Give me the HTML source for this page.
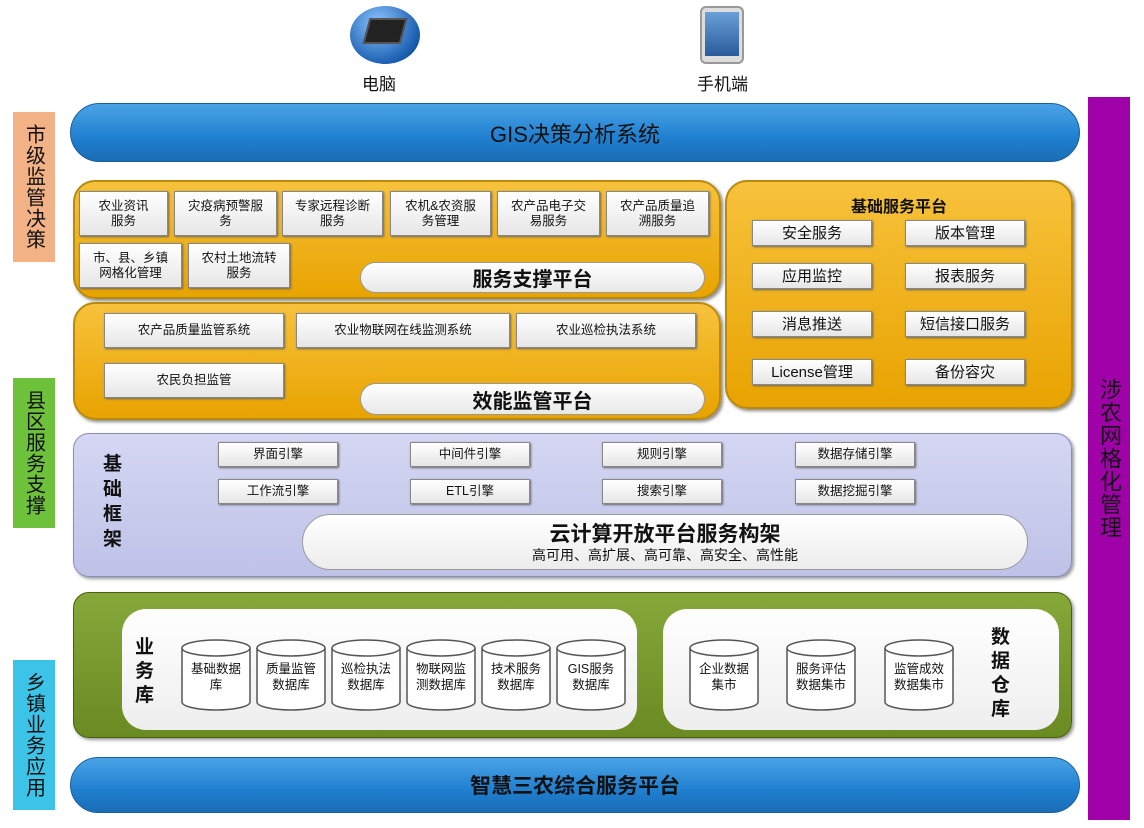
<!DOCTYPE html>
<html><head><meta charset="utf-8">
<style>
*{margin:0;padding:0;box-sizing:border-box}
body{width:1144px;height:828px;background:#fff;position:relative;overflow:hidden;font-family:"Liberation Sans","Noto Sans CJK SC",sans-serif;color:#111}
.a{position:absolute}
.c{display:flex;align-items:center;justify-content:center;text-align:center}
.bar{background:linear-gradient(#4aa3e6,#1f7fcf 60%,#1a6db5);border-radius:30px;border:1px solid #1a5f9e;color:#111;font-size:22px}
.side{width:42px;font-size:20px;writing-mode:vertical-rl;letter-spacing:1px;display:flex;align-items:center;justify-content:center}
.org{background:linear-gradient(#f7c23c,#e8a300);border:2px solid #b88a10;border-radius:22px;box-shadow:2px 2px 3px #888}
.wb{background:linear-gradient(#fff,#e6e6e6);border:1px solid #888;box-shadow:1px 1px 2px #666;font-size:12.5px;line-height:15px}
.pill{background:linear-gradient(#fff,#e8e8e8);border:1px solid #999;border-radius:16px;font-size:20px;font-weight:bold}
.cyl{position:absolute;width:68px;height:72px}
.cyl span{position:absolute;left:0;right:0;top:22px;font-size:12.5px;line-height:16px;text-align:center}
</style></head><body>
<!-- icons -->
<div class="a" style="left:350px;top:6px;width:70px;height:58px;border-radius:50%;background:radial-gradient(circle at 40% 30%,#8ec4ff,#1a5fb0 70%,#0c3570)"></div>
<div class="a" style="left:366px;top:18px;width:38px;height:26px;background:#222;transform:skewX(-15deg);border:2px solid #555"></div>
<div class="a" style="left:362px;top:70px;font-size:17px">电脑</div>
<div class="a" style="left:700px;top:6px;width:44px;height:58px;border-radius:6px;background:#ddd;border:2px solid #999"></div>
<div class="a" style="left:705px;top:12px;width:34px;height:44px;background:linear-gradient(#6aa0d8,#2a5a9a)"></div>
<div class="a" style="left:697px;top:70px;font-size:17px">手机端</div>
<!-- side labels -->
<div class="a side" style="left:13px;top:112px;height:150px;background:#f2b285">市级监管决策</div>
<div class="a side" style="left:13px;top:378px;height:150px;background:#6ec13a">县区服务支撑</div>
<div class="a side" style="left:13px;top:660px;height:150px;background:#3cc3e8">乡镇业务应用</div>
<div class="a side" style="left:1088px;top:97px;height:723px;background:#a000a8;font-size:22px">涉农网格化管理</div>
<!-- GIS bar -->
<div class="a bar c" style="left:70px;top:103px;width:1010px;height:59px">GIS决策分析系统</div>
<!-- service support -->
<div class="a org" style="left:73px;top:180px;width:648px;height:119px"></div>
<div class="a wb c" style="left:79px;top:191px;width:89px;height:45px">农业资讯<br>服务</div>
<div class="a wb c" style="left:174px;top:191px;width:103px;height:45px">灾疫病预警服<br>务</div>
<div class="a wb c" style="left:282px;top:191px;width:101px;height:45px">专家远程诊断<br>服务</div>
<div class="a wb c" style="left:390px;top:191px;width:101px;height:45px">农机&amp;农资服<br>务管理</div>
<div class="a wb c" style="left:497px;top:191px;width:103px;height:45px">农产品电子交<br>易服务</div>
<div class="a wb c" style="left:606px;top:191px;width:103px;height:45px">农产品质量追<br>溯服务</div>
<div class="a wb c" style="left:79px;top:243px;width:103px;height:45px">市、县、乡镇<br>网格化管理</div>
<div class="a wb c" style="left:188px;top:243px;width:102px;height:45px">农村土地流转<br>服务</div>
<div class="a pill c" style="left:360px;top:262px;width:345px;height:31px">服务支撑平台</div>
<!-- efficiency -->
<div class="a org" style="left:73px;top:302px;width:648px;height:118px"></div>
<div class="a wb c" style="left:104px;top:313px;width:180px;height:35px">农产品质量监管系统</div>
<div class="a wb c" style="left:296px;top:313px;width:214px;height:35px">农业物联网在线监测系统</div>
<div class="a wb c" style="left:516px;top:313px;width:180px;height:35px">农业巡检执法系统</div>
<div class="a wb c" style="left:104px;top:363px;width:180px;height:35px">农民负担监管</div>
<div class="a pill c" style="left:360px;top:383px;width:345px;height:32px">效能监管平台</div>
<!-- basic service platform -->
<div class="a org" style="left:725px;top:180px;width:348px;height:229px"></div>
<div class="a" style="left:725px;top:193px;width:348px;text-align:center;font-size:16px;font-weight:bold">基础服务平台</div>
<div class="a wb c" style="left:752px;top:220px;width:120px;height:26px;font-size:15px">安全服务</div>
<div class="a wb c" style="left:905px;top:220px;width:120px;height:26px;font-size:15px">版本管理</div>
<div class="a wb c" style="left:752px;top:263px;width:120px;height:26px;font-size:15px">应用监控</div>
<div class="a wb c" style="left:905px;top:263px;width:120px;height:26px;font-size:15px">报表服务</div>
<div class="a wb c" style="left:752px;top:311px;width:120px;height:26px;font-size:15px">消息推送</div>
<div class="a wb c" style="left:905px;top:311px;width:120px;height:26px;font-size:15px">短信接口服务</div>
<div class="a wb c" style="left:752px;top:359px;width:120px;height:26px;font-size:15px">License管理</div>
<div class="a wb c" style="left:905px;top:359px;width:120px;height:26px;font-size:15px">备份容灾</div>
<!-- framework -->
<div class="a" style="left:73px;top:433px;width:999px;height:144px;background:linear-gradient(#d4d6f2,#bfc2e8);border:1px solid #8a8db8;border-radius:16px;box-shadow:2px 2px 3px #999"></div>
<div class="a" style="left:103px;top:452px;width:24px;font-size:19px;font-weight:bold;line-height:25px">基础框架</div>
<div class="a wb c" style="left:218px;top:442px;width:120px;height:25px">界面引擎</div>
<div class="a wb c" style="left:410px;top:442px;width:120px;height:25px">中间件引擎</div>
<div class="a wb c" style="left:602px;top:442px;width:120px;height:25px">规则引擎</div>
<div class="a wb c" style="left:795px;top:442px;width:120px;height:25px">数据存储引擎</div>
<div class="a wb c" style="left:218px;top:479px;width:120px;height:25px">工作流引擎</div>
<div class="a wb c" style="left:410px;top:479px;width:120px;height:25px">ETL引擎</div>
<div class="a wb c" style="left:602px;top:479px;width:120px;height:25px">搜索引擎</div>
<div class="a wb c" style="left:795px;top:479px;width:120px;height:25px">数据挖掘引擎</div>
<div class="a" style="left:302px;top:514px;width:726px;height:56px;background:linear-gradient(#fff,#ececec);border:1px solid #999;border-radius:28px"></div>
<div class="a" style="left:302px;top:518px;width:726px;text-align:center;font-size:21px;font-weight:bold">云计算开放平台服务构架</div>
<div class="a" style="left:302px;top:545px;width:726px;text-align:center;font-size:14px">高可用、高扩展、高可靠、高安全、高性能</div>
<!-- data -->
<div class="a" style="left:73px;top:592px;width:999px;height:146px;background:linear-gradient(#86a83a,#6a8a22);border:1px solid #4a6010;border-radius:16px;box-shadow:2px 2px 3px #999"></div>
<div class="a" style="left:122px;top:609px;width:515px;height:121px;background:linear-gradient(#fff,#eee);border-radius:24px"></div>
<div class="a" style="left:663px;top:609px;width:396px;height:121px;background:linear-gradient(#fff,#eee);border-radius:24px"></div>
<div class="a" style="left:135px;top:636px;width:22px;font-size:19px;font-weight:bold;line-height:24px">业务库</div>
<div class="a" style="left:991px;top:626px;width:22px;font-size:19px;font-weight:bold;line-height:24px">数据仓库</div>
<svg class="a" style="left:0;top:0" width="1144" height="828">
<defs><g id="cy"><path d="M1 9 V63 A34 8 0 0 0 69 63 V9" fill="#fff" stroke="#555" stroke-width="1.5"/><ellipse cx="35" cy="9" rx="34" ry="8" fill="#fff" stroke="#555" stroke-width="1.5"/></g></defs>
<use href="#cy" x="181" y="639"/><use href="#cy" x="256" y="639"/><use href="#cy" x="331" y="639"/><use href="#cy" x="406" y="639"/><use href="#cy" x="481" y="639"/><use href="#cy" x="556" y="639"/>
<use href="#cy" x="689" y="639"/><use href="#cy" x="786" y="639"/><use href="#cy" x="884" y="639"/>
</svg>
<div class="cyl" style="left:182px;top:639px"><span>基础数据<br>库</span></div>
<div class="cyl" style="left:257px;top:639px"><span>质量监管<br>数据库</span></div>
<div class="cyl" style="left:332px;top:639px"><span>巡检执法<br>数据库</span></div>
<div class="cyl" style="left:407px;top:639px"><span>物联网监<br>测数据库</span></div>
<div class="cyl" style="left:482px;top:639px"><span>技术服务<br>数据库</span></div>
<div class="cyl" style="left:557px;top:639px"><span>GIS服务<br>数据库</span></div>
<div class="cyl" style="left:690px;top:639px"><span>企业数据<br>集市</span></div>
<div class="cyl" style="left:787px;top:639px"><span>服务评估<br>数据集市</span></div>
<div class="cyl" style="left:885px;top:639px"><span>监管成效<br>数据集市</span></div>
<!-- bottom bar -->
<div class="a bar c" style="left:70px;top:757px;width:1010px;height:56px;font-weight:bold;font-size:21px">智慧三农综合服务平台</div>
</body></html>
